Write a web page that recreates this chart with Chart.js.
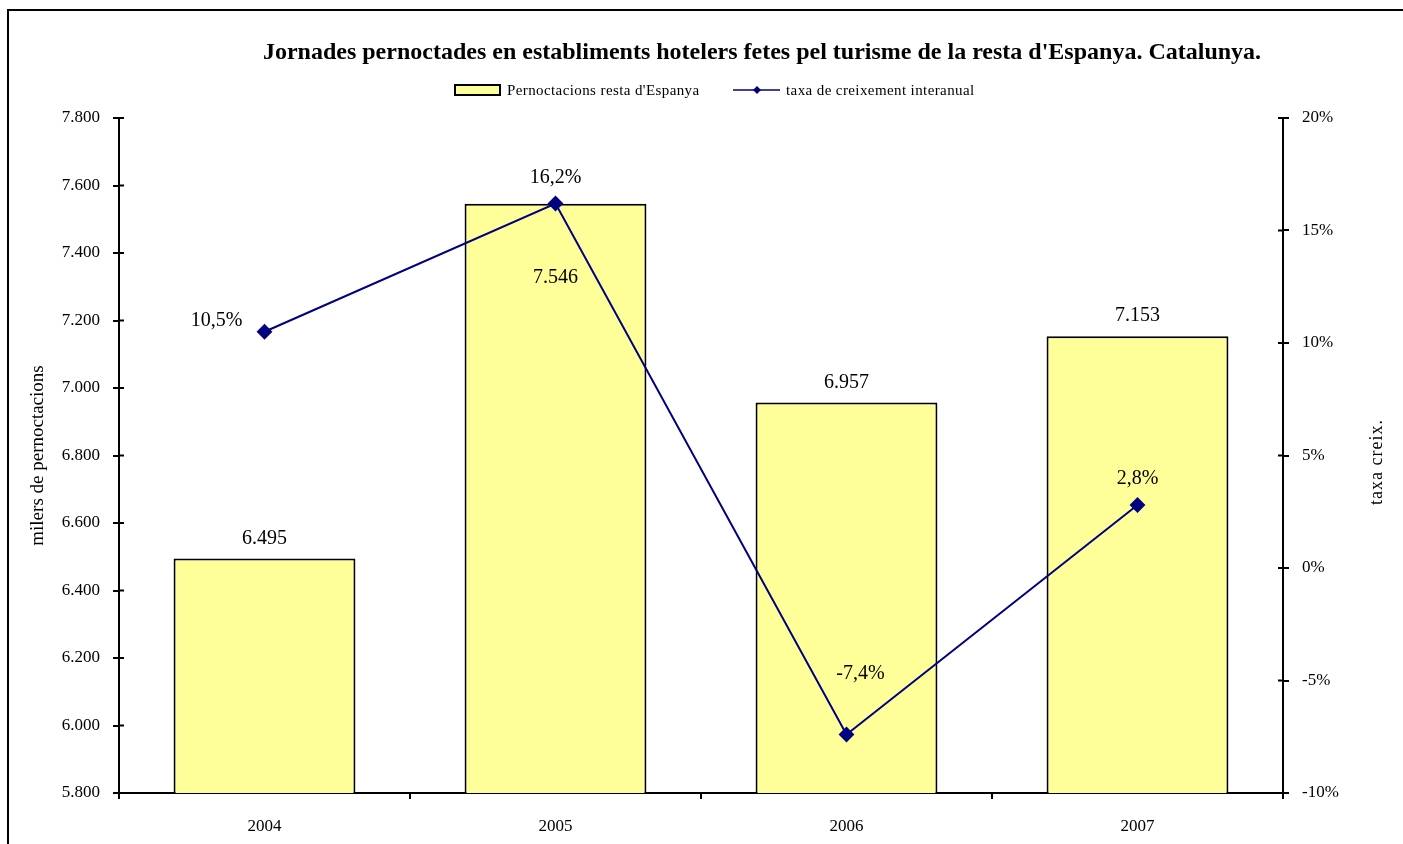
<!DOCTYPE html>
<html lang="ca">
<head>
  <meta charset="UTF-8" />
  <title>Jornades pernoctades - Catalunya</title>
  <script src="https://cdn.jsdelivr.net/npm/chart.js"></script>
  <style>
    body {
      margin: 0;
      background: #fff;
      overflow: hidden;
    }

    .frame {
      position: absolute;
      left: 7px;
      top: 9px;
      width: 1600px;
      height: 1000px;
      border: 2px solid #000;
    }

    canvas {
      position: absolute;
      left: 0;
      top: 0;
    }
  </style>
</head>
<body>
  <div class="frame"></div>
  <canvas id="chart" width="1403" height="844"></canvas>

  <script>
    const years = ['2004', '2005', '2006', '2007'];
    const pernoctacions = [6495, 7546, 6957, 7153];
    const taxa = [10.5, 16.2, -7.4, 2.8];

    const titleText = "Jornades pernoctades en establiments hotelers fetes pel turisme de la resta d'Espanya. Catalunya.";
    const serif = "'Liberation Serif', 'Times New Roman', serif";

    function fmtThousands(v) {
      return String(v).replace(/\B(?=(\d{3})+(?!\d))/g, '.');
    }
    function fmtPct(v) {
      return v.toFixed(1).replace('.', ',') + '%';
    }

    // where each label sits relative to its mark: [dx, dy]
    const barLabelOffset = [[0, -20], [0, 74], [0, -20], [0, -21]];
    const lineLabelOffset = [[-48, -11], [0, -26], [14, -61], [0, -26]];

    const extras = {
      id: 'extras',
      afterDraw(chart) {
        const ctx = chart.ctx;
        const area = chart.chartArea;
        ctx.save();

        // title
        ctx.fillStyle = '#000';
        ctx.font = 'bold 24px ' + serif;
        ctx.textAlign = 'center';
        ctx.textBaseline = 'middle';
        ctx.fillText(titleText, 762, 53);

        // legend
        ctx.font = '15px ' + serif;
        ctx.letterSpacing = '0.4px';
        ctx.textAlign = 'left';
        ctx.fillStyle = '#FFFF99';
        ctx.fillRect(455, 85, 45, 10);
        ctx.strokeStyle = '#000';
        ctx.lineWidth = 2;
        ctx.strokeRect(455, 85, 45, 10);
        ctx.fillStyle = '#000';
        ctx.fillText("Pernoctacions resta d'Espanya", 507, 91);
        ctx.strokeStyle = '#000080';
        ctx.lineWidth = 1.5;
        ctx.beginPath();
        ctx.moveTo(733, 90);
        ctx.lineTo(780, 90);
        ctx.stroke();
        ctx.fillStyle = '#000080';
        ctx.beginPath();
        ctx.moveTo(757, 86);
        ctx.lineTo(761, 90);
        ctx.lineTo(757, 94);
        ctx.lineTo(753, 90);
        ctx.closePath();
        ctx.fill();
        ctx.fillStyle = '#000';
        ctx.fillText('taxa de creixement interanual', 786, 91);

        // right axis title, read bottom to top
        ctx.save();
        ctx.translate(1377, 462);
        ctx.rotate(-Math.PI / 2);
        ctx.textAlign = 'center';
        ctx.font = '18px ' + serif;
        ctx.letterSpacing = '1px';
        ctx.fillText('taxa creix.', 0, 0);
        ctx.restore();
        ctx.letterSpacing = '0px';

        // inner half of the axis tick marks
        ctx.strokeStyle = '#000';
        ctx.lineWidth = 2;
        const y = chart.scales.y, y1 = chart.scales.y1;
        y.ticks.forEach((t, i) => {
          const p = y.getPixelForTick(i);
          ctx.beginPath();
          ctx.moveTo(area.left, p);
          ctx.lineTo(area.left + 5, p);
          ctx.stroke();
        });
        y1.ticks.forEach((t, i) => {
          const p = y1.getPixelForTick(i);
          ctx.beginPath();
          ctx.moveTo(area.right - 5, p);
          ctx.lineTo(area.right, p);
          ctx.stroke();
        });

        // data labels
        ctx.font = '20px ' + serif;
        ctx.textAlign = 'center';
        ctx.fillStyle = '#000';
        chart.getDatasetMeta(0).data.forEach((el, i) => {
          const o = barLabelOffset[i];
          ctx.fillText(fmtThousands(pernoctacions[i]), el.x + o[0], el.y + o[1]);
        });
        chart.getDatasetMeta(1).data.forEach((el, i) => {
          const o = lineLabelOffset[i];
          ctx.fillText(fmtPct(taxa[i]), el.x + o[0], el.y + o[1]);
        });

        ctx.restore();
      }
    };

    const tickFont = { family: serif, size: 17 };

    new Chart(document.getElementById('chart'), {
      type: 'bar',
      data: {
        labels: years,
        datasets: [{
          label: "Pernoctacions resta d'Espanya",
          data: pernoctacions,
          backgroundColor: '#FFFF99',
          borderColor: '#000',
          borderWidth: 2,
          barPercentage: 0.625,
          categoryPercentage: 1,
          yAxisID: 'y',
          order: 2
        }, {
          type: 'line',
          label: 'taxa de creixement interanual',
          data: taxa,
          borderColor: '#000080',
          backgroundColor: '#000080',
          borderWidth: 2,
          pointStyle: 'rectRot',
          pointRadius: 6.5,
          pointHoverRadius: 6.5,
          yAxisID: 'y1',
          order: 1
        }]
      },
      options: {
        responsive: false,
        animation: false,
        events: [],
        layout: { padding: { top: 118, left: 0, right: 0, bottom: 0 } },
        plugins: {
          legend: { display: false },
          title: { display: false },
          tooltip: { enabled: false }
        },
        scales: {
          x: {
            afterFit(s) { s.height = 51; },
            grid: { offset: true, drawOnChartArea: false, tickLength: 6, tickColor: '#000', lineWidth: 2 },
            border: { color: '#000', width: 2 },
            ticks: { color: '#000', font: tickFont, padding: 17 }
          },
          y: {
            position: 'left',
            min: 5800,
            max: 7800,
            afterFit(s) { s.width = 119; },
            ticks: { stepSize: 200, color: '#000', font: tickFont, padding: 13, callback: v => fmtThousands(v) },
            grid: { drawOnChartArea: false, tickLength: 6, tickColor: '#000', lineWidth: 2 },
            border: { color: '#000', width: 2 },
            title: {
              display: true,
              text: 'milers de pernoctacions',
              color: '#000',
              font: { family: serif, size: 19 },
              padding: { top: 27, bottom: 0 }
            }
          },
          y1: {
            position: 'right',
            min: -10,
            max: 20,
            afterFit(s) { s.width = 120; },
            ticks: { stepSize: 5, color: '#000', font: tickFont, padding: 13, callback: v => v + '%' },
            grid: { drawOnChartArea: false, tickLength: 6, tickColor: '#000', lineWidth: 2 },
            border: { color: '#000', width: 2 }
          }
        }
      },
      plugins: [extras]
    });
  </script>
</body>
</html>
